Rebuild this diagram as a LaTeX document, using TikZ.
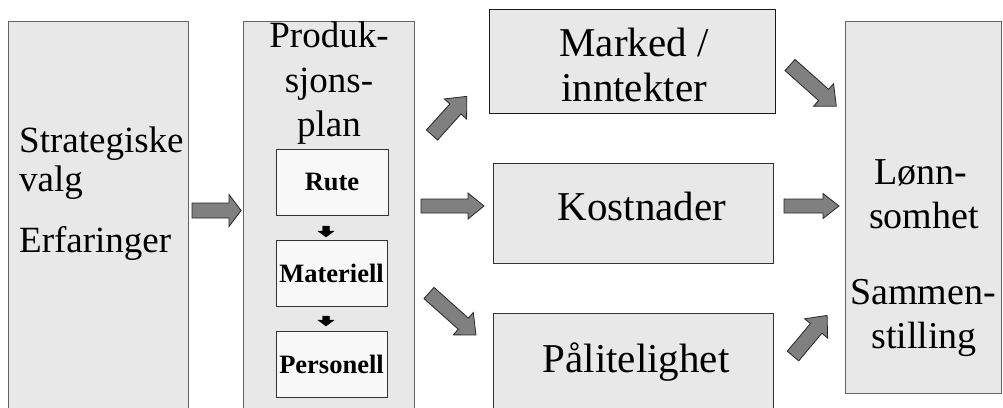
\documentclass[tikz,border=0pt]{standalone}
\usepackage{fontspec}
\setmainfont{Liberation Serif}
\definecolor{boxfill}{RGB}{232,232,232}
\definecolor{boxline}{RGB}{100,100,100}
\definecolor{innerfill}{RGB}{248,248,248}
\definecolor{arrowfill}{RGB}{128,128,128}
% block arrow: tail centre (#1,#2), direction #3 (degrees), length #4,
% shaft width #5, head width #6, head length #7, style #8
\newcommand\blockarrow[8]{%
  \draw[#8, shift={(#1,#2)}, rotate=#3]
    (0,{#5/2}) -- ({#4-#7},{#5/2}) -- ({#4-#7},{#6/2}) -- (#4,0)
    -- ({#4-#7},{-#6/2}) -- ({#4-#7},{-#5/2}) -- (0,{-#5/2}) -- cycle;}
\begin{document}
\begin{tikzpicture}[x=1pt,y=-1pt,
  box/.style={draw=boxline, fill=boxfill, line width=1pt, inner sep=0pt,
    outer sep=0pt, anchor=north west},
  innerbox/.style={draw=black!80, fill=innerfill, line width=0.8pt, inner sep=0pt,
    outer sep=0pt, anchor=north west, minimum width=111pt, minimum height=66pt,
    font=\fontsize{26.5}{30}\selectfont\bfseries},
  txt/.style={inner sep=0pt, anchor=base, font=\fontsize{37}{44}\selectfont},
  bigtxt/.style={inner sep=0pt, anchor=base, font=\fontsize{41}{46}\selectfont},
  grayarrow/.style={fill=arrowfill, draw=black!85, line width=0.8pt, line join=miter},
  blackarrow/.style={fill=black, draw=black, line width=0.4pt}]
\clip (0,0) rectangle (1003,407);
\fill[white] (0,0) rectangle (1003,407);

% outer boxes
\node[box, minimum width=180pt, minimum height=400pt] (strat) at (8,21) {};
\node[box, minimum width=171pt, minimum height=400pt] (plan) at (243,21) {};
\node[box, draw=black!90, minimum width=286pt, minimum height=104pt] (marked) at (489,9) {};
\node[box, draw=black!80, minimum width=280pt, minimum height=100pt] (kost) at (493,163) {};
\node[box, draw=black!80, minimum width=280pt, minimum height=110pt] (paal) at (493,313) {};
\node[box, minimum width=156pt, minimum height=372pt] (lonn) at (845,21) {};

% left box text
\node[txt, anchor=base west] (s1) at (19,152) {Strategiske};
\node[txt, anchor=base west] (s2) at (19,191) {valg};
\node[txt, anchor=base west] (s3) at (19,252) {Erfaringer};

% production plan
\node[txt] (p1) at (329,47) {Produk-};
\node[txt] (p2) at (329,92) {sjons-};
\node[txt] (p3) at (329,136) {plan};
\node[innerbox, minimum width=112pt] (rute) at (276,149) {Rute};
\node[innerbox] (mat) at (276,240) {Materiell};
\node[innerbox] (pers) at (276,331) {Personell};
\blockarrow{326}{226}{-90}{11}{7}{16}{6}{blackarrow}
\blockarrow{326}{316}{-90}{10}{7}{16}{6}{blackarrow}

% middle column
\node[bigtxt] (m1) at (634,56) {Marked /};
\node[bigtxt] (m2) at (634,101) {inntekter};
\node[bigtxt] (k1) at (642,220) {Kostnader};
\node[bigtxt] (pa1) at (636,372) {Pålitelighet};

% right box text
\node[txt, font=\fontsize{38}{44}\selectfont] (l1) at (921,184) {Lønn-};
\node[txt, font=\fontsize{38}{44}\selectfont] (l2) at (924,228) {somhet};
\node[txt, font=\fontsize{38}{44}\selectfont] (l3) at (923,304) {Sammen-};
\node[txt, font=\fontsize{38}{44}\selectfont] (l4) at (924,348) {stilling};

% block arrows between the boxes
\blockarrow{192}{210.5}{0}{49}{15}{32}{12}{grayarrow}
\blockarrow{421}{206}{0}{63}{14}{26}{16}{grayarrow}
\blockarrow{784}{206}{0}{55}{14}{25}{16}{grayarrow}
\blockarrow{432}{135}{48}{52}{15}{30}{17}{grayarrow}
\blockarrow{429}{293}{-41.8}{63}{15}{30}{17}{grayarrow}
\blockarrow{790}{65}{-41.7}{62}{15}{30}{17}{grayarrow}
\blockarrow{793}{356}{50}{53}{15}{30}{17}{grayarrow}
\end{tikzpicture}
\end{document}
